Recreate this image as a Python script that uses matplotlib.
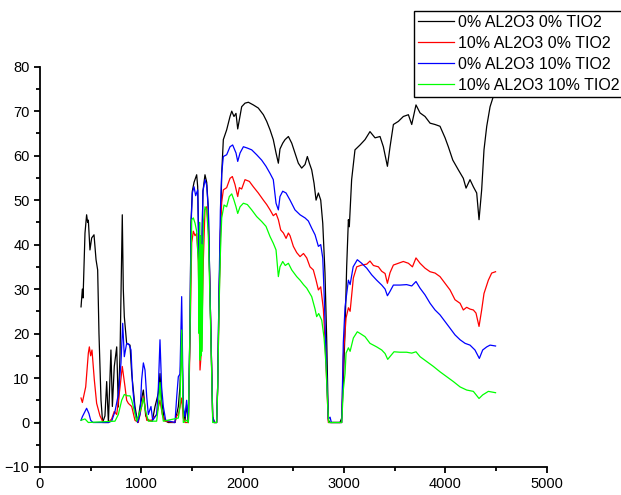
import matplotlib
matplotlib.use("Agg")
import matplotlib.pyplot as plt
from matplotlib.ticker import MultipleLocator

plt.rcParams['font.family'] = ['Liberation Sans', 'DejaVu Sans']

labels = ["0% AL2O3 0% TIO2", "10% AL2O3 0% TIO2",
          "0% AL2O3 10% TIO2", "10% AL2O3 10% TIO2"]
colors = ["#000000", "#ff0000", "#0000ff", "#00ff00"]

# 0% AL2O3 0% TIO2
wn_k = [405, 418, 425, 444, 460, 470, 477, 493, 510, 533, 553, 569, 582, 602, 618,
        641, 658, 675, 700, 714, 733, 757, 773, 790, 812, 822, 832, 855, 888, 905,
        937, 964, 987, 1020, 1043, 1069, 1108, 1135, 1168, 1184, 1200, 1227, 1266,
        1332, 1365, 1381, 1398, 1414, 1431, 1447, 1464, 1480, 1490, 1503, 1520,
        1546, 1556, 1569, 1586, 1595, 1608, 1628, 1645, 1661, 1678, 1694, 1704,
        1720, 1743, 1753, 1766, 1776, 1793, 1809, 1842, 1875, 1892, 1914, 1934,
        1951, 1967, 1990, 2023, 2056, 2105, 2154, 2204, 2237, 2270, 2302, 2329,
        2352, 2368, 2395, 2418, 2451, 2484, 2516, 2549, 2582, 2615, 2638, 2658,
        2681, 2704, 2724, 2747, 2770, 2790, 2812, 2829, 2845, 2862, 2960, 2977,
        2993, 3010, 3026, 3043, 3052, 3075, 3108, 3158, 3207, 3256, 3306, 3355, 3388,
        3428, 3454, 3487, 3536, 3585, 3635, 3668, 3710, 3750, 3799, 3849, 3898,
        3947, 3997, 4029, 4073, 4128, 4177, 4204, 4243, 4276, 4309, 4332, 4358,
        4381, 4408, 4441, 4473, 4495]
t_k = [26, 30, 28, 42.6, 46.7, 45, 45.5, 38.8, 41.5, 42.2, 36.6, 34.3, 20, 5, 0,
       1.5, 9.2, 0, 16.3, 3.6, 12.6, 17, 3.5, 15.6, 46.7, 30, 23.8, 17.8, 17.4, 11,
       3.6, 0, 3.6, 7.3, 1.5, 0.5, 0.3, 3.6, 6.6, 11, 5, 0.5, 0,
       0, 3.6, 8, 20, 3, 0.5, 4, 0, 22, 45, 52, 54,
       55.7, 53, 37, 23, 36, 52, 55.7, 54, 48, 29, 12.6, 1.3,
       0, 0, 8, 29, 37.3, 56, 63.6, 65.8, 68.8, 70, 68.8, 69.5,
       66, 68, 71, 71.8, 72, 71.4, 70.7, 69.2, 67.7, 65.8, 63.6, 60.6,
       58.3, 61.5, 62.8, 63.6, 64.3, 62.8, 60.6, 58.3, 57.2, 58, 59.8, 58.3,
       56.8, 53.8, 50, 51.6, 50, 44.8, 33.6, 18.6, 0.5, 0, 0, 1,
       9, 21, 35, 45.6, 44, 54.6, 61.3, 62.4, 63.6, 65.4, 64, 64.3, 62,
       57.6, 62, 67, 67.7, 68.8, 69.2, 67, 71.4, 69.6, 68.8, 67.3, 67,
       66.6, 64, 62, 59, 56.8, 54.9, 52.7, 54.6, 53, 51.6, 45.6, 52.3,
       61.3, 66.6, 71, 73.3, 73.7]

# 10% AL2O3 0% TIO2
wn_r = [405, 418, 451, 477, 487, 500, 513, 536, 559, 592, 625, 675, 707, 733, 757,
        790, 812, 839, 855, 872, 905, 937, 970, 1003, 1020, 1036, 1053, 1102, 1151,
        1184, 1207, 1233, 1332, 1349, 1365, 1381, 1398, 1414, 1431, 1464, 1480,
        1497, 1513, 1530, 1546, 1562, 1579, 1595, 1612, 1628, 1645, 1661, 1678,
        1694, 1704, 1720, 1743, 1753, 1766, 1780, 1793, 1809, 1842, 1875, 1898,
        1924, 1951, 1967, 1990, 2023, 2066, 2105, 2154, 2204, 2237, 2270, 2302,
        2329, 2352, 2375, 2402, 2428, 2451, 2467, 2500, 2533, 2566, 2600, 2632,
        2664, 2697, 2724, 2747, 2770, 2796, 2812, 2829, 2845, 2977, 2993, 3000,
        3020, 3043, 3060, 3092, 3125, 3174, 3224, 3256, 3290, 3339, 3372, 3405,
        3428, 3454, 3487, 3536, 3585, 3635, 3675, 3710, 3750, 3799, 3849, 3898,
        3947, 3997, 4046, 4095, 4145, 4177, 4210, 4243, 4276, 4302, 4332, 4358,
        4381, 4424, 4457, 4495]
t_r = [5.5, 4.5, 8, 15.6, 17, 15, 16.3, 9.6, 4.3, 1.5, 0, 0, 0.8, 2.5, 1.8,
       8, 12.6, 8, 5, 4.3, 3.6, 0.5, 0, 3.6, 5.8, 3.6, 0.5, 0.5, 1.8,
       5, 1.8, 0.3, 0, 1.5, 1.8, 3.5, 5.5, 1, 0, 0, 17.8,
       40.4, 43, 42, 42.5, 36.6, 11.8, 17, 36.6, 47.8, 48.5, 44, 29,
       12.6, 1.3, 0, 0, 8, 25, 42.6, 49.5, 52.3, 52.8, 54.9, 55.3,
       53.5, 50.8, 52.8, 52.5, 54.6, 54.2, 53, 51.6, 50, 49, 47.8, 46.5,
       47, 45.6, 43.3, 42.6, 41.4, 42.6, 42, 39.6, 38.2, 37.3, 38, 37,
       35, 34.3, 32, 29.8, 30.5, 25.5, 18.6, 9, 0, 0, 14.8, 17,
       23.5, 25.8, 25, 32.5, 35, 35.4, 35.6, 36.3, 35.3, 35, 34, 33.5,
       31.3, 33.7, 35.4, 35.8, 36.2, 35.8, 35, 37, 35.8, 34.7, 33.9, 33.6,
       32.8, 31.3, 29.8, 27.6, 26.8, 25.3, 25.9, 25.5, 25.3, 24.6, 21.6, 25.3,
       29, 32, 33.6, 33.9]

# 0% AL2O3 10% TIO2
wn_b = [405, 418, 460, 483, 500, 523, 675, 707, 740, 773, 799, 816, 832, 855, 878,
        898, 914, 937, 964, 987, 1003, 1020, 1036, 1053, 1069, 1095, 1112, 1151,
        1168, 1184, 1200, 1217, 1240, 1332, 1349, 1365, 1381, 1398, 1414, 1431,
        1447, 1464, 1480, 1490, 1503, 1520, 1536, 1556, 1569, 1586, 1595, 1608,
        1628, 1645, 1661, 1678, 1694, 1704, 1720, 1743, 1753, 1766, 1780, 1793,
        1809, 1842, 1875, 1901, 1934, 1951, 1974, 2007, 2046, 2089, 2138, 2187,
        2230, 2270, 2302, 2329, 2352, 2368, 2395, 2428, 2467, 2516, 2566, 2615,
        2648, 2681, 2714, 2747, 2770, 2790, 2805, 2829, 2845, 2862, 2875, 2977,
        2993, 3010, 3043, 3060, 3090, 3131, 3174, 3224, 3273, 3322, 3372, 3405,
        3428, 3454, 3487, 3552, 3618, 3668, 3710, 3750, 3799, 3849, 3898, 3947,
        3997, 4046, 4095, 4145, 4194, 4243, 4292, 4335, 4368, 4408, 4441, 4495]
t_b = [0.5, 1.3, 3.2, 2, 0.5, 0, 0, 0.3, 2.5, 6.3, 13.4, 22.3, 14.8, 17.8, 17.6,
       16.3, 8, 2.5, 0, 1.8, 9.6, 13.4, 11.8, 5.8, 1.8, 3.6, 0.5, 1.8,
       8, 18.6, 8, 3.6, 0.5, 0, 5.8, 10.3, 10.9, 28.3, 3.6, 1.3,
       5, 0, 21.6, 44, 51.6, 53, 51, 52.3, 36.6, 23, 36, 52,
       54.6, 53.3, 47.8, 29, 12.6, 1.3, 0, 0, 8, 29, 47.8, 56,
       59.8, 60.2, 62, 62.4, 60.6, 58.7, 60.6, 62, 61.7, 61.3, 60.2, 59,
       57.6, 56, 54.6, 49.3, 47.8, 50.8, 52, 51.6, 50, 47.8, 46.7, 46,
       45.3, 43.7, 42.2, 39.6, 40, 37, 28, 10.5, 0.8, 1.2, 0, 0,
       18, 26, 32, 31, 35, 36.6, 35.8, 34.7, 33.2, 32, 30.9, 30,
       28.5, 29.5, 30.9, 30.9, 31, 30.7, 31.7, 30.2, 28.7, 26.8, 25.3, 24.2,
       22.7, 21.2, 19.7, 18.6, 17.8, 17.4, 16.3, 14.4, 16.3, 17, 17.4, 17.2]

# 10% AL2O3 10% TIO2
wn_g = [405, 444, 477, 740, 773, 806, 832, 865, 888, 905, 920, 954, 1003, 1020,
        1043, 1069, 1151, 1168, 1184, 1200, 1217, 1365, 1381, 1398, 1414, 1447,
        1464, 1480, 1497, 1513, 1530, 1546, 1562, 1570, 1575, 1580, 1585, 1590,
        1595, 1600, 1612, 1628, 1645, 1661, 1678, 1694, 1704, 1743, 1753, 1766,
        1780, 1793, 1816, 1842, 1868, 1892, 1914, 1934, 1951, 1974, 2007, 2046,
        2089, 2138, 2187, 2230, 2270, 2302, 2329, 2352, 2368, 2395, 2420, 2451,
        2484, 2533, 2566, 2600, 2632, 2681, 2714, 2730, 2750, 2780, 2803, 2822,
        2839, 2850, 2977, 2993, 3010, 3020, 3043, 3060, 3092, 3131, 3160, 3207,
        3256, 3322, 3372, 3405, 3431, 3460, 3493, 3552, 3618, 3668, 3710, 3750,
        3816, 3882, 3947, 4013, 4079, 4145, 4210, 4276, 4332, 4368, 4424, 4495]
t_g = [0.5, 0.8, 0, 0.3, 1.8, 5, 6.3, 6, 6, 5, 3.6, 0.3, 3.6, 5.5,
       2.5, 0.3, 0.3, 3.6, 9, 3, 0.3, 1, 3.5, 20.8, 0, 0.5,
       0, 21, 45.6, 46, 44.8, 43, 36, 20, 45, 14, 42, 15,
       40, 16, 45, 48.5, 47.8, 42, 27, 11, 0, 0, 7, 25,
       38, 46, 48.9, 48.5, 50.8, 51.4, 50, 48.5, 47, 48.5, 49.3, 49,
       47.8, 46.3, 45.2, 44.1, 41.8, 40.3, 38.8, 32.8, 35, 36.2, 35.3, 35.8,
       34.3, 32.8, 32, 31, 30.2, 28.3, 25.5, 23.8, 24.5, 23, 19, 13,
       3.5, 0, 0, 7.3, 11, 15.6, 16.8, 16, 19, 20.4, 20, 19.3,
       17.8, 17, 16.3, 15.5, 14.2, 15, 15.9, 15.8, 15.8, 15.6, 15.9, 14.8,
       13.7, 12.6, 11.4, 10.3, 9.2, 8, 7.3, 7, 5.4, 6.2, 7, 6.7]

fig = plt.figure(figsize=(6.21, 4.95), dpi=100)
ax = fig.add_axes([0.0644, 0.0566, 0.816, 0.8087])

series = [(wn_k, t_k), (wn_r, t_r), (wn_b, t_b), (wn_g, t_g)]
for (x, y), c, lab in zip(series, colors, labels):
    ax.plot(x, y, color=c, lw=0.9, label=lab)

ax.set_xlim(0, 5000)
ax.set_ylim(-10, 80)
ax.xaxis.set_major_locator(MultipleLocator(1000))
ax.xaxis.set_minor_locator(MultipleLocator(500))
ax.yaxis.set_major_locator(MultipleLocator(10))
ax.yaxis.set_minor_locator(MultipleLocator(5))

ax.spines['top'].set_visible(False)
ax.spines['right'].set_visible(False)
for s in ['left', 'bottom']:
    ax.spines[s].set_linewidth(1.3)
ax.tick_params(which='major', direction='out', length=4.5, width=1.3,
               labelsize=10.5, pad=3)
ax.tick_params(which='minor', direction='out', length=2.8, width=1.3)

leg = fig.legend(loc='upper left', bbox_to_anchor=(0.666, 0.978),
                 fontsize=11.5, frameon=True, fancybox=False,
                 edgecolor='black', framealpha=1, borderpad=0.25,
                 handlelength=2.25, handletextpad=0.3, labelspacing=0.37,
                 borderaxespad=0)
leg.get_frame().set_linewidth(1.0)

fig.savefig("out.png", dpi=100)
